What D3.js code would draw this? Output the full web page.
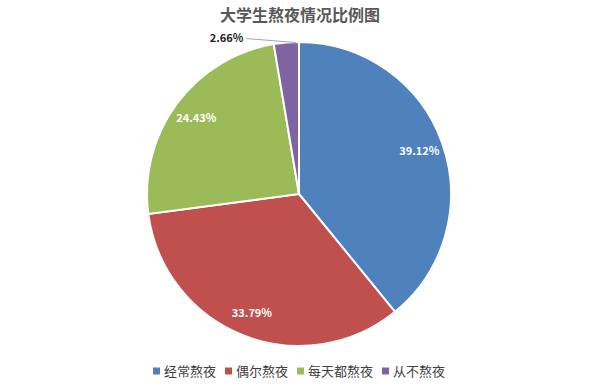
<!DOCTYPE html>
<html>
<head>
<meta charset="utf-8">
<script src="https://cdn.jsdelivr.net/npm/d3@7"></script>
<style>
  body { margin: 0; background: #fff; }
  text { font-family: "Noto Sans CJK SC", sans-serif; }
</style>
</head>
<body>
<div id="chart"></div>
<script>
var categories = ["经常熬夜", "偶尔熬夜", "每天都熬夜", "从不熬夜"];
var values = [39.12, 33.79, 24.43, 2.66];
var colors = ["#4f81bd", "#c0504d", "#9bbb59", "#8064a2"];

var svgWidth = 600;
var svgHeight = 390;
var cx = 299, cy = 194, radius = 152;

var svg = d3.select("#chart")
  .append("svg")
  .attr("width", svgWidth)
  .attr("height", svgHeight);

svg.append("text")
  .attr("x", 300)
  .attr("y", 21)
  .attr("text-anchor", "middle")
  .attr("font-size", 16)
  .attr("font-weight", "bold")
  .attr("fill", "#595959")
  .text("大学生熬夜情况比例图");

var data = categories.map(function(c, i) { return { name: c, value: values[i], color: colors[i] }; });

var pie = d3.pie().sort(null).value(d => d.value);
var arcs = pie(data);

var arc = d3.arc().innerRadius(0).outerRadius(radius);
var labelArc = d3.arc().innerRadius(radius * 0.84).outerRadius(radius * 0.84);

var pieGroup = svg.append("g")
  .attr("transform", `translate(${cx},${cy})`);

pieGroup.selectAll("path")
  .data(arcs)
  .enter()
  .append("path")
  .attr("d", arc)
  .attr("fill", d => d.data.color)
  .attr("stroke", "#fff")
  .attr("stroke-width", 2);

// inside labels for the big slices
pieGroup.selectAll(".pieLabel")
  .data(arcs.filter(d => d.data.value > 5))
  .enter()
  .append("text")
  .attr("class", "pieLabel")
  .attr("transform", d => `translate(${labelArc.centroid(d)})`)
  .attr("text-anchor", "middle")
  .attr("dy", "0.35em")
  .attr("font-family", "DejaVu Sans, sans-serif")
  .attr("font-size", 11)
  .attr("font-weight", "bold")
  .attr("fill", "#fff")
  .text(d => d.data.value.toFixed(2) + "%");

// small slice label outside with leader line
var small = arcs.filter(d => d.data.value <= 5);
small.forEach(function(d) {
  var mid = (d.startAngle + d.endAngle) / 2;
  var ex = Math.sin(mid) * radius;
  var ey = -Math.cos(mid) * radius;
  var lx = ex - 40, ly = ey - 4;
  pieGroup.append("polyline")
    .attr("points", [[lx, ly], [ex + 10, ey]].join(" "))
    .attr("fill", "none")
    .attr("stroke", "#a6a6a6")
    .attr("stroke-width", 1);
  pieGroup.append("text")
    .attr("x", lx - 3)
    .attr("y", ly)
    .attr("dy", "0.35em")
    .attr("text-anchor", "end")
    .attr("font-family", "DejaVu Sans, sans-serif")
    .attr("font-size", 11)
    .attr("font-weight", "bold")
    .attr("fill", "#222")
    .text(d.data.value.toFixed(2) + "%");
});

// legend
var legendX = [153, 225, 297, 382];
var legend = svg.selectAll(".legendItem")
  .data(data)
  .enter()
  .append("g")
  .attr("class", "legendItem")
  .attr("transform", (d, i) => `translate(${legendX[i]},371)`);

legend.append("rect")
  .attr("x", 0)
  .attr("y", -3.5)
  .attr("width", 7)
  .attr("height", 7)
  .attr("fill", d => d.color);

legend.append("text")
  .attr("x", 11)
  .attr("dy", "0.36em")
  .attr("font-size", 13)
  .attr("fill", "#404040")
  .text(d => d.name);
</script>
</body>
</html>
